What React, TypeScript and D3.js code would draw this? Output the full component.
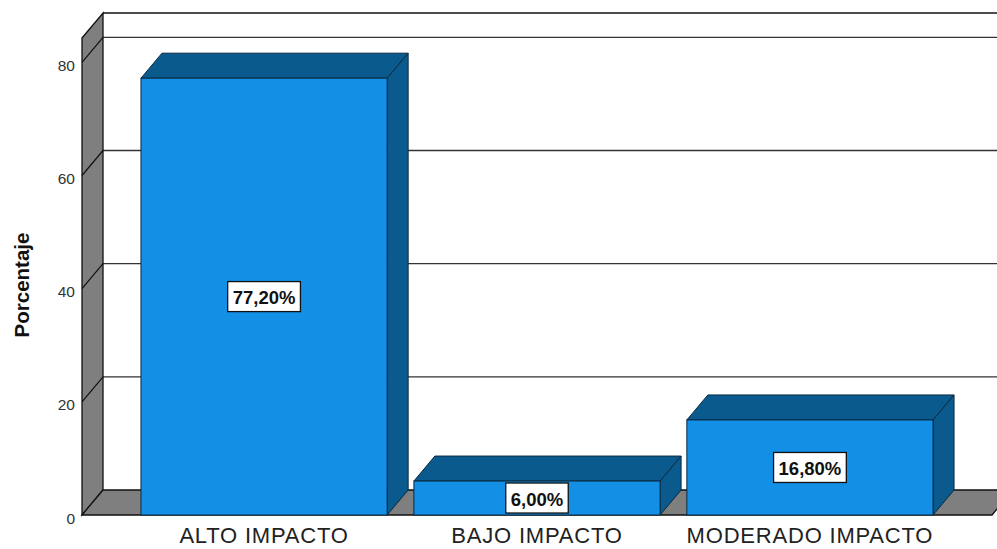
import React, { useEffect, useRef } from 'react'
import * as d3 from 'd3'

const categories = ['ALTO IMPACTO', 'BAJO IMPACTO', 'MODERADO IMPACTO']
const values = [77.2, 6.0, 16.8]
const valueLabels = ['77,20%', '6,00%', '16,80%']
const yTicks = [0, 20, 40, 60, 80]

const W = 997
const H = 549

export default function App() {
  const ref = useRef<SVGSVGElement>(null)

  useEffect(() => {
    const svg = d3.select(ref.current)
    svg.selectAll('*').remove()

    const left = 82, right = 992, bottom = 515
    const dx = 21, dy = -25
    const font = 'Liberation Sans, Arial, sans-serif'

    const x = d3.scaleBand<string>()
      .domain(categories)
      .range([left, right])
      .paddingInner(0.098)
      .paddingOuter(0.216)

    const y = d3.scaleLinear()
      .domain([0, 84.3])
      .range([bottom, 38])

    const g = svg.append('g')

    // back wall top border
    g.append('line')
      .attr('x1', left + dx).attr('x2', W + 30)
      .attr('y1', y(84.3) + dy).attr('y2', y(84.3) + dy)
      .attr('stroke', '#111').attr('stroke-width', 1.5)

    // back grid lines
    g.selectAll('.grid')
      .data(yTicks.filter(d => d > 0))
      .enter()
      .append('line')
      .attr('x1', left + dx).attr('x2', W + 30)
      .attr('y1', d => y(d) + dy).attr('y2', d => y(d) + dy)
      .attr('stroke', '#333').attr('stroke-width', 1.3)

    // left wall
    g.append('path')
      .attr('d', `M${left},${y(84.3)} L${left + dx},${y(84.3) + dy} L${left + dx},${bottom + dy} L${left},${bottom} Z`)
      .attr('fill', '#7f7f7f').attr('stroke', '#111').attr('stroke-width', 1.3)

    // wall grid lines
    g.selectAll('.wallgrid')
      .data(yTicks.filter(d => d > 0))
      .enter()
      .append('line')
      .attr('x1', left).attr('x2', left + dx)
      .attr('y1', d => y(d)).attr('y2', d => y(d) + dy)
      .attr('stroke', '#111').attr('stroke-width', 1.2)

    // floor
    g.append('path')
      .attr('d', `M${left},${bottom} L${left + dx},${bottom + dy} L${right + dx},${bottom + dy} L${right},${bottom} Z`)
      .attr('fill', '#7f7f7f').attr('stroke', '#111').attr('stroke-width', 1.3)

    // bars
    const bars = g.selectAll('.bar')
      .data(categories)
      .enter()
      .append('g')

    const front = '#138fe6'
    const dark = '#0b5a8e'

    bars.append('path')
      .attr('d', (c, i) => {
        const x0 = x(c)!, x1 = x0 + x.bandwidth(), yt = y(values[i])
        return `M${x0},${yt} L${x0 + dx},${yt + dy} L${x1 + dx},${yt + dy} L${x1},${yt} Z`
      })
      .attr('fill', dark).attr('stroke', '#0a2a40').attr('stroke-width', 1)

    bars.append('path')
      .attr('d', (c, i) => {
        const x1 = x(c)! + x.bandwidth(), yt = y(values[i])
        return `M${x1},${yt} L${x1 + dx},${yt + dy} L${x1 + dx},${bottom + dy} L${x1},${bottom} Z`
      })
      .attr('fill', dark).attr('stroke', '#0a2a40').attr('stroke-width', 1)

    bars.append('rect')
      .attr('x', c => x(c)!)
      .attr('y', (c, i) => y(values[i]))
      .attr('width', x.bandwidth())
      .attr('height', (c, i) => bottom - y(values[i]))
      .attr('fill', front).attr('stroke', '#0a2a40').attr('stroke-width', 1)

    // value labels
    bars.each(function (c, i) {
      const cx = x(c)! + x.bandwidth() / 2
      const cy = (y(values[i]) + bottom) / 2
      const gg = d3.select(this)
      const t = gg.append('text')
        .attr('x', cx).attr('y', cy + 1)
        .attr('text-anchor', 'middle')
        .attr('dominant-baseline', 'central')
        .attr('font-family', font)
        .attr('font-weight', 'bold')
        .attr('font-size', 18.5)
        .attr('fill', '#111')
        .text(valueLabels[i])
      const bb = (t.node() as SVGTextElement).getBBox()
      gg.insert('rect', 'text')
        .attr('x', bb.x - 5).attr('y', cy - 15)
        .attr('width', bb.width + 10).attr('height', 30)
        .attr('fill', '#fff').attr('stroke', '#111').attr('stroke-width', 1.3)
    })

    // y tick labels
    g.selectAll('.ytick')
      .data(yTicks)
      .enter()
      .append('text')
      .attr('x', 75)
      .attr('y', d => y(d) + 3)
      .attr('text-anchor', 'end')
      .attr('dominant-baseline', 'central')
      .attr('font-family', font)
      .attr('font-size', 15.5)
      .attr('fill', '#333')
      .text(d => d)

    // category labels
    g.selectAll('.xlab')
      .data(categories)
      .enter()
      .append('text')
      .attr('x', c => x(c)! + x.bandwidth() / 2)
      .attr('y', 543)
      .attr('text-anchor', 'middle')
      .attr('font-family', font)
      .attr('font-size', 22)
      .attr('letter-spacing', 0.8)
      .attr('fill', '#222')
      .text(c => c)

    // axis title
    g.append('text')
      .attr('transform', `translate(21,285) rotate(-90)`)
      .attr('text-anchor', 'middle')
      .attr('dominant-baseline', 'central')
      .attr('font-family', font)
      .attr('font-weight', 'bold')
      .attr('font-size', 20.5)
      .attr('fill', '#111')
      .text('Porcentaje')
  }, [])

  return (
    <svg ref={ref} width={W} height={H}
      style={{ position: 'absolute', left: 0, top: 0, background: '#fff' }} />
  )
}
